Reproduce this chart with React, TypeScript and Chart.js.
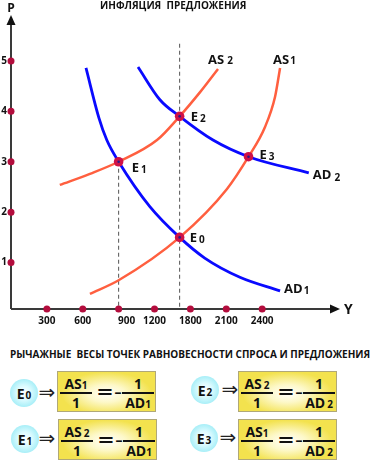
import React, { useEffect, useRef } from "react";
import { Chart, registerables } from "chart.js";
Chart.register(...registerables);

// ---------- data ----------
const title = "ИНФЛЯЦИЯ  ПРЕДЛОЖЕНИЯ";
const subtitle = "РЫЧАЖНЫЕ  ВЕСЫ ТОЧЕК РАВНОВЕСНОСТИ СПРОСА И ПРЕДЛОЖЕНИЯ";
const xAxisTitle = "Y";
const yAxisTitle = "P";
const xTickLabels = ["300", "600", "900", "1200", "1800", "2100", "2400"];
const xTickPos = [1, 2, 3, 4, 5, 6, 7];
const yTickValues = [1, 2, 3, 4, 5];

// curves (x in tick-step units, y = P)
const ad1: number[][] = [[2.09, 4.86], [2.45, 3.87], [2.67, 3.43], [3.0, 3.0], [3.87, 2.11], [4.7, 1.5], [5.4, 1.09], [6.38, 0.71], [7.5, 0.44]];
const ad2: number[][] = [[3.54, 4.88], [4.15, 4.23], [4.7, 3.9], [5.63, 3.43], [6.62, 3.1], [8.3, 2.78]];
const as2: number[][] = [[1.36, 2.54], [2.2, 2.76], [3.0, 3.0], [4.07, 3.43], [4.7, 3.9], [5.27, 4.38], [5.77, 4.84]];
const as1: number[][] = [[2.2, 0.38], [3.0, 0.65], [4.7, 1.5], [6.02, 2.46], [6.62, 3.1], [7.08, 3.69], [7.36, 4.29], [7.5, 4.86]];

// equilibrium points E0..E3
const eqNames = ["0", "1", "2", "3"];
const eqX = [4.7, 3.0, 4.7, 6.62];
const eqY = [1.5, 3.0, 3.9, 3.1];
const eqAS = ["1", "2", "2", "1"];
const eqAD = ["1", "1", "2", "2"];

// dashed guides
const guideE2: number[][] = [[4.7, 5.34], [4.7, 0.08]];
const guideE1: number[][] = [[3.0, 3.0], [3.0, 0.08]];

const X_MIN = 0, X_MAX = 9.17, Y_MIN = 0.08, Y_MAX = 5.91;

// ---------- style ----------
const FONT = "'Open Sans', 'DejaVu Sans', sans-serif";
const BLUE = "#0a0aff";
const ORANGE = "#ff5f3f";
const CRIMSON = "#cf1247";

const toPts = (a: number[][]) => a.map(([x, y]) => ({ x, y }));

function subText(ctx: CanvasRenderingContext2D, main: string, sub: string, x: number, y: number, size: number, subSize: number, gap: number, subDy: number) {
  ctx.font = `bold ${size}px ${FONT}`;
  ctx.textAlign = "left";
  ctx.textBaseline = "alphabetic";
  ctx.fillText(main, x, y);
  const w = ctx.measureText(main).width;
  ctx.font = `bold ${subSize}px ${FONT}`;
  ctx.fillText(sub, x + w + gap, y + subDy);
}

const decor = {
  id: "decor",
  beforeDatasetsDraw(chart: any) {
    const { ctx, chartArea: a } = chart;
    ctx.save();
    ctx.strokeStyle = "#3a3a3a";
    ctx.lineWidth = 2;
    ctx.beginPath();
    ctx.moveTo(a.left, a.bottom);
    ctx.lineTo(a.left, a.top + 8);
    ctx.moveTo(a.left, a.bottom);
    ctx.lineTo(a.right - 8, a.bottom);
    ctx.stroke();
    ctx.fillStyle = "#111";
    ctx.beginPath();
    ctx.moveTo(a.left, a.top);
    ctx.lineTo(a.left - 4.5, a.top + 10);
    ctx.lineTo(a.left + 4.5, a.top + 10);
    ctx.closePath();
    ctx.fill();
    ctx.beginPath();
    ctx.moveTo(a.right, a.bottom);
    ctx.lineTo(a.right - 10, a.bottom - 4.5);
    ctx.lineTo(a.right - 10, a.bottom + 4.5);
    ctx.closePath();
    ctx.fill();
    ctx.restore();
  },
  afterDatasetsDraw(chart: any) {
    const { ctx, chartArea: a, scales } = chart;
    const xs = scales.x, ys = scales.y;
    ctx.save();
    ctx.fillStyle = "#111";
    // title
    ctx.font = `bold 10px ${FONT}`;
    ctx.textAlign = "left";
    ctx.textBaseline = "alphabetic";
    ctx.fillText(title, 100, 9);
    // axis titles
    ctx.font = `bold 12px ${FONT}`;
    ctx.textAlign = "center";
    ctx.fillText(yAxisTitle, a.left, 12);
    ctx.font = `bold 14px ${FONT}`;
    ctx.textAlign = "left";
    ctx.fillText(xAxisTitle, a.right + 4, a.bottom + 5);
    // y tick labels
    ctx.font = `bold 10px ${FONT}`;
    ctx.textAlign = "right";
    ctx.textBaseline = "middle";
    yTickValues.forEach((v) => ctx.fillText(String(v), a.left - 4, ys.getPixelForValue(v)));
    // x tick labels
    ctx.textAlign = "center";
    xTickLabels.forEach((t, i) => {
      const pos = xTickPos[i];
      const shift = Math.abs(pos - guideE1[0][0]) < 0.01 ? 8 : 0;
      ctx.fillText(t, xs.getPixelForValue(pos) + shift, a.bottom + 12);
    });
    // curve labels
    const end = (arr: number[][]) => ({ x: xs.getPixelForValue(arr[arr.length - 1][0]), y: ys.getPixelForValue(arr[arr.length - 1][1]) });
    let p = end(as2);
    subText(ctx, "AS", "2", p.x - 10, p.y - 5, 13, 10, 3, 0);
    p = end(as1);
    subText(ctx, "AS", "1", p.x - 7, p.y - 4, 13, 10, 1, 0);
    p = end(ad2);
    subText(ctx, "AD", "2", p.x + 4, p.y + 6, 13, 10, 3, 2);
    p = end(ad1);
    subText(ctx, "AD", "1", p.x + 4, p.y + 2, 13, 10, 1, 1);
    // equilibrium labels
    const offs = [[10, 5], [13, 10], [11, 5], [11, 2]];
    eqNames.forEach((n, i) => {
      const px = xs.getPixelForValue(eqX[i]);
      const py = ys.getPixelForValue(eqY[i]);
      subText(ctx, "E", n, px + offs[i][0], py + offs[i][1], 13, 10, 2, 1);
    });
    ctx.restore();
  },
};

function ChartCanvas() {
  const ref = useRef<HTMLCanvasElement>(null);
  useEffect(() => {
    const eqPts = eqX.map((x, i) => ({ x, y: eqY[i] }));
    const chart = new Chart(ref.current!, {
      type: "scatter",
      data: {
        datasets: [
          { data: eqPts, pointRadius: 1.3, backgroundColor: "#2a1a8a", borderWidth: 0, order: 0, clip: false } as any,
          { data: eqPts, pointRadius: 4.8, backgroundColor: CRIMSON, borderWidth: 0, order: 1, clip: false } as any,
          { data: xTickPos.map((x) => ({ x, y: Y_MIN })), pointRadius: 3.5, backgroundColor: "#b30d3d", borderWidth: 0, order: 2, clip: false } as any,
          { data: yTickValues.map((y) => ({ x: X_MIN, y })), pointRadius: 3.5, backgroundColor: "#b30d3d", borderWidth: 0, order: 2, clip: false } as any,
          { data: toPts(ad1), showLine: true, borderColor: BLUE, borderWidth: 2.8, pointRadius: 0, cubicInterpolationMode: "monotone", order: 3, clip: false } as any,
          { data: toPts(ad2), showLine: true, borderColor: BLUE, borderWidth: 2.8, pointRadius: 0, cubicInterpolationMode: "monotone", order: 3, clip: false } as any,
          { data: toPts(as1), showLine: true, borderColor: ORANGE, borderWidth: 2.5, pointRadius: 0, cubicInterpolationMode: "monotone", order: 4, clip: false } as any,
          { data: toPts(as2), showLine: true, borderColor: ORANGE, borderWidth: 2.5, pointRadius: 0, cubicInterpolationMode: "monotone", order: 4, clip: false } as any,
          { data: toPts(guideE2), showLine: true, borderColor: "#555", borderWidth: 1, borderDash: [4, 3], pointRadius: 0, order: 5, clip: false } as any,
          { data: toPts(guideE1), showLine: true, borderColor: "#555", borderWidth: 1, borderDash: [4, 3], pointRadius: 0, order: 5, clip: false } as any,
        ],
      },
      options: {
        responsive: false,
        animation: false,
        layout: { padding: { left: 11, right: 51, top: 15, bottom: 31 } },
        plugins: { legend: { display: false }, tooltip: { enabled: false } },
        events: [],
        scales: {
          x: { type: "linear", min: X_MIN, max: X_MAX, display: false },
          y: { type: "linear", min: Y_MIN, max: Y_MAX, display: false },
        },
      },
      plugins: [decor],
    });
    return () => chart.destroy();
  }, []);
  return <canvas ref={ref} width={391} height={340} style={{ position: "absolute", left: 0, top: 0 }} />;
}

function Frac({ num, den, left }: { num: React.ReactNode; den: React.ReactNode; left: number }) {
  return (
    <>
      <div style={{ position: "absolute", left, width: 32, top: 4, textAlign: "center", lineHeight: "15px" }}>{num}</div>
      <div style={{ position: "absolute", left, width: 32, top: 20, height: 2, background: "#111" }} />
      <div style={{ position: "absolute", left, width: 32, top: 23, textAlign: "center", lineHeight: "15px" }}>{den}</div>
    </>
  );
}

const S = ({ m, s, gap = 0 }: { m: string; s: string; gap?: number }) => (
  <span style={{ whiteSpace: "nowrap" }}>
    {m}
    <span style={{ fontSize: 10, marginLeft: gap }}>{s}</span>
  </span>
);

const rowLayout = [
  { cx: 24, cy: 393, ax: 47, bx: 57, by: 371 },
  { cx: 25, cy: 439, ax: 47, bx: 58, by: 419 },
  { cx: 205, cy: 390, ax: 230, bx: 238, by: 371 },
  { cx: 204, cy: 438, ax: 228, bx: 238, by: 419 },
];

function EqRow({ i }: { i: number }) {
  const L = rowLayout[i];
  return (
    <>
      <div
        style={{
          position: "absolute", left: L.cx - 14, top: L.cy - 14, width: 28, height: 28, borderRadius: "50%",
          background: "radial-gradient(circle at 50% 50%, #ffffff 0%, #dcfbff 35%, #7de4f1 100%)",
          display: "flex", alignItems: "center", justifyContent: "center",
          font: `bold 14px ${FONT}`, color: "#111",
        }}
      >
        <S m="E" s={eqNames[i]} gap={1} />
      </div>
      <div style={{ position: "absolute", left: L.ax - 10, top: L.cy - 14, width: 20, textAlign: "center", font: "20px 'DejaVu Sans', sans-serif", lineHeight: "26px", color: "#222" }}>⇒</div>
      <div
        style={{
          position: "absolute", left: L.bx, top: L.by, width: 99, height: 41, boxSizing: "border-box",
          border: "1px solid #b0a878",
          background: "radial-gradient(ellipse 55% 65% at 50% 55%, #ffffff 0%, #fdf8c8 35%, #f3e24e 85%)",
          font: `bold 14px ${FONT}`, color: "#111",
        }}
      >
        <Frac left={2} num={<S m="AS" s={eqAS[i]} gap={eqAS[i] === "2" ? 2 : 0} />} den="1" />
        <div style={{ position: "absolute", left: 38, top: 8, width: 18, textAlign: "center", font: `bold 20px ${FONT}`, lineHeight: "24px", transform: "scaleX(1.35)" }}>=</div>
        <div style={{ position: "absolute", left: 56, top: 8, width: 8, textAlign: "center", font: `bold 14px ${FONT}`, lineHeight: "24px" }}>–</div>
        <Frac left={64} num="1" den={<S m="AD" s={eqAD[i]} gap={eqAD[i] === "2" ? 2 : 0} />} />
      </div>
    </>
  );
}

export default function App() {
  return (
    <div style={{ position: "absolute", left: 0, top: 0, width: 391, height: 463, background: "#fff", overflow: "hidden" }}>
      <ChartCanvas />
      <div style={{ position: "absolute", left: 10, top: 347, font: `bold 10px ${FONT}`, whiteSpace: "pre", color: "#111", lineHeight: "14px" }}>{subtitle}</div>
      {[0, 1, 2, 3].map((i) => (
        <EqRow key={i} i={i} />
      ))}
    </div>
  );
}
